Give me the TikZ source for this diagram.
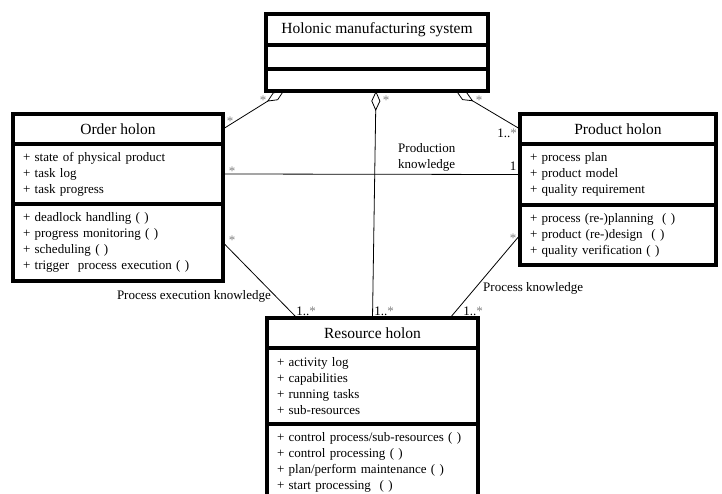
\documentclass[tikz,border=0pt]{standalone}
\usepackage{fontspec}
\setmainfont{Liberation Serif}
\usetikzlibrary{arrows.meta,calc}
\tikzset{
  box/.style={draw, line width=3.2pt, inner sep=0pt, outer sep=0pt},
  titlebox/.style={box, font=\fontsize{15.5}{18}\selectfont},
  listbox/.style={box, align=left, inner xsep=10pt, font=\fontsize{13}{16}\selectfont},
  conn/.style={line width=0.8pt},
  agg/.style={conn, {Diamond[open, length=20pt, width=9pt, line width=0.8pt]}-},
  mult/.style={font=\fontsize{13}{15}\selectfont, inner sep=0pt},
  star/.style={mult, text=gray},
  elabel/.style={font=\fontsize{13}{16}\selectfont, inner sep=0pt, align=left}
}
\begin{document}
\begin{tikzpicture}[x=1pt,y=-1pt]
\useasboundingbox (0,0) rectangle (722,494);
\begin{scope}
\clip (0,0) rectangle (722,494);
% Holonic manufacturing system
\node[titlebox, minimum width=222pt, minimum height=31pt] (hT) at (377,29.5) {Holonic manufacturing system};
\node[box, minimum width=222pt, minimum height=24pt] (hA) at (377,57) {};
\node[box, minimum width=222pt, minimum height=22pt] (hO) at (377,80) {};
% Order holon
\node[titlebox, minimum width=210pt, minimum height=30pt] (oT) at (118,129) {Order holon};
\node[listbox, text width=190pt, minimum height=60pt] (oA) at (118,174) {+ state of physical product\\+ task log\\+ task progress};
\node[listbox, text width=190pt, minimum height=77pt] (oO) at (118,242.5) {+ deadlock handling ( )\\+ progress monitoring ( )\\+ scheduling ( )\\+ trigger\ \ process execution ( )};
% Product holon
\node[titlebox, minimum width=196pt, minimum height=30pt] (pT) at (618,129) {Product holon};
\node[listbox, text width=176pt, minimum height=61pt] (pA) at (618,174.5) {+ process plan\\+ product model\\+ quality requirement};
\node[listbox, text width=176pt, minimum height=60pt] (pO) at (618,235) {+ process (re-)planning\ \ ( )\\+ product (re-)design\ \ ( )\\+ quality verification ( )};
% Resource holon
\node[titlebox, minimum width=211pt, minimum height=30pt] (rT) at (372.5,333) {Resource holon};
\node[listbox, text width=191pt, minimum height=76pt] (rA) at (372.5,386) {+ activity log\\+ capabilities\\+ running tasks\\+ sub-resources};
\node[listbox, text width=191pt, minimum height=76pt] (rO) at (372.5,462) {+ control process/sub-resources ( )\\+ control processing ( )\\+ plan/perform maintenance ( )\\+ start processing\ \ ( )};
\end{scope}
% anchor points
\coordinate (hL) at ($(hO.south)+(-93,0)$);
\coordinate (hM) at ($(hO.south)+(-1,0)$);
\coordinate (hR) at ($(hO.south)+(79,0)$);
\coordinate (rL) at ($(rT.north)+(-75.5,0)$);
\coordinate (rR) at ($(rT.north)+(77.5,0)$);
% connectors
\draw[agg] (hL) -- (oT.east);
\draw[agg] (hR) -- (pT.west);
\draw[agg] (hM) -- (rT.north);
\draw[conn] (oA.east) -- (pA.west);
\draw[conn] (oO.east) -- (rL);
\draw[conn] (pO.west) -- (rR);
% multiplicities
\node[star] at (230,121) {*};
\node[star] at (263,100) {*};
\node[star] at (232,171) {*};
\node[star] at (232,240) {*};
\node[star] at (386,100) {*};
\node[star] at (479,100) {*};
\node[mult, anchor=east] at (517,133) {1..\textcolor{gray}{*}};
\node[mult] at (513,166) {1};
\node[star] at (513,238) {*};
\node[mult] at (306,311) {1..\textcolor{gray}{*}};
\node[mult] at (384,311) {1..\textcolor{gray}{*}};
\node[mult] at (473,311) {1..\textcolor{gray}{*}};
% edge labels
\node[elabel, anchor=west] at (398,157) {Production\\knowledge};
\node[elabel, anchor=east] at (271,296) {Process execution knowledge};
\node[elabel, anchor=west] at (483,288) {Process knowledge};
\end{tikzpicture}
\end{document}
